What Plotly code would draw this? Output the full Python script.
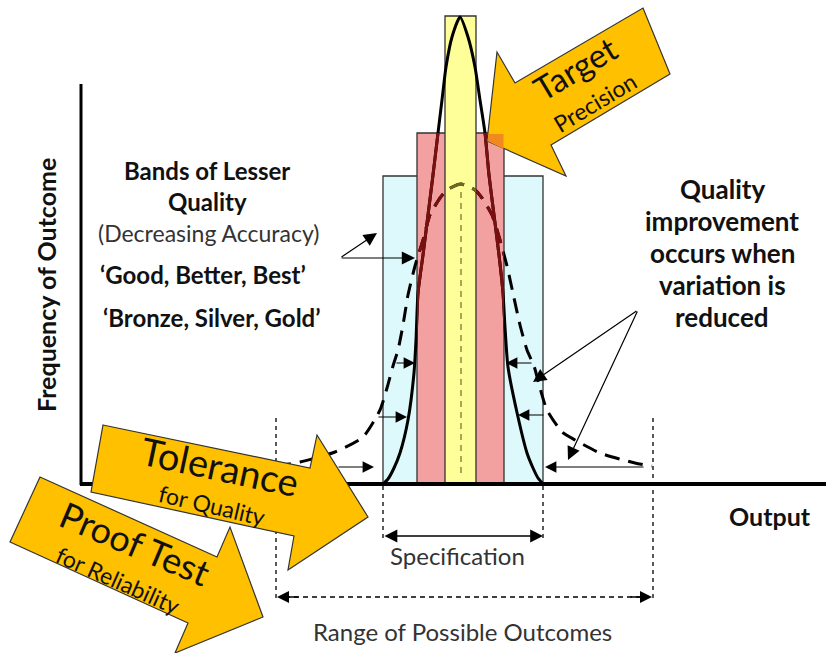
import plotly.graph_objects as go

W, H = 826, 653
FONT = "Lato"

# ---------------- data ----------------
# quality bands: outer (good/bronze), middle (better/silver), target (best/gold)
band_x0 = [383, 417, 445]
band_x1 = [543, 504, 476]
band_top = [176, 133, 16]
band_fill = ["#DDF9FB", "#F3A0A0", "#FFFF99"]
baseline_y = 484
center_x = 461

# reduced-variation distribution (solid)
solid_x = [383, 388, 394, 400, 408, 414, 416, 418, 423, 428, 433, 438, 442, 446, 452, 460,
           468, 475, 480, 485, 489, 494, 499, 503, 505, 508, 518, 527, 533, 538, 543]
solid_y = [484, 479, 468, 453, 420, 373, 340, 293, 255, 215, 175, 133, 100, 67, 37, 17,
           37, 67, 100, 133, 175, 215, 255, 293, 327, 367, 417, 453, 468, 478, 484]

# wide-variation distribution (dashed)
dashed_x = [276, 300, 335, 363, 380, 387, 393, 398, 403, 408, 415, 423, 430, 440, 447, 461,
            475, 482, 492, 500, 507, 514, 520, 527, 534, 540, 547, 562, 575, 600, 635, 652]
dashed_y = [466, 462, 452, 437, 410, 388, 366, 350, 325, 295, 266, 240, 215, 198, 190, 184,
            190, 198, 215, 240, 266, 298, 325, 350, 366, 388, 410, 432, 440, 453, 463, 466]

# ---------------- figure ----------------
fig = go.Figure()

def curve(xs, ys, color, dash, xa="x", ya="y"):
    fig.add_trace(go.Scatter(x=xs, y=ys, mode="lines", xaxis=xa, yaxis=ya,
                             line=dict(color=color, width=3, dash=dash, shape="spline", smoothing=0.6),
                             hoverinfo="skip", showlegend=False))

# main curves (black)
curve(dashed_x, dashed_y, "black", "15px,9px")
curve(solid_x, solid_y, "black", "solid")
# tinted copies, clipped to the pink and yellow bands
curve(dashed_x, dashed_y, "#7A1010", "15px,9px", "x2", "y2")
curve(solid_x, solid_y, "#7A1010", "solid", "x2", "y2")
curve(dashed_x, dashed_y, "#7A1010", "15px,9px", "x3", "y2")
curve(solid_x, solid_y, "#7A1010", "solid", "x3", "y2")
curve(dashed_x, dashed_y, "#6B6B1F", "15px,9px", "x4", "y2")

shapes = []
# bands
for x0, x1, top, fc in zip(band_x0, band_x1, band_top, band_fill):
    shapes.append(dict(type="rect", xref="x", yref="y", x0=x0, x1=x1, y0=top, y1=baseline_y,
                       fillcolor=fc, line=dict(color="#333333", width=1.3), layer="below"))
# centre line
shapes.append(dict(type="line", xref="x", yref="y", x0=center_x, x1=center_x, y0=192, y1=478,
                   line=dict(color="#8A8A40", width=1.5, dash="6px,5px"), layer="above"))
# axes
shapes.append(dict(type="line", xref="x", yref="y", x0=81, x1=81, y0=84, y1=baseline_y + 1,
                   line=dict(color="black", width=3), layer="above"))
shapes.append(dict(type="line", xref="x", yref="y", x0=80, x1=826, y0=baseline_y, y1=baseline_y,
                   line=dict(color="black", width=4), layer="above"))
# vertical dashed guides
for gx, gy0, gy1 in [(383, 486, 542), (543, 486, 542), (276, 418, 602), (653, 418, 602)]:
    shapes.append(dict(type="line", xref="x", yref="y", x0=gx, x1=gx, y0=gy0, y1=gy1,
                       line=dict(color="black", width=1.3, dash="4px,4px"), layer="above"))
# range dashed line
shapes.append(dict(type="line", xref="x", yref="y", x0=285, x1=644, y0=597, y1=597,
                   line=dict(color="black", width=1.4, dash="5px,4px"), layer="above"))

gold = "#FFC000"
edge = dict(color="#333333", width=1.2)
# Target arrow
shapes.append(dict(type="path", xref="x", yref="y", layer="above", fillcolor=gold, line=edge,
                   path="M 487,141 L 497,52 L 515,83 L 643,8 L 670,74 L 551,145 L 566,176 Z"))
shapes.append(dict(type="path", xref="x", yref="y", layer="above", fillcolor="#F08A1E",
                   line=dict(width=0), path="M 487.5,141 L 488.5,134 L 503.5,134 L 503.5,149 Z"))
# Tolerance arrow
shapes.append(dict(type="path", xref="x", yref="y", layer="above", fillcolor=gold, line=edge,
                   path="M 103,425 L 310,468 L 317,435 L 368,517 L 288,570 L 294,536 L 91,492 Z"))
# Proof test arrow
shapes.append(dict(type="path", xref="x", yref="y", layer="above", fillcolor=gold, line=edge,
                   path="M 40,477 L 217,557 L 230,527 L 263,617 L 175,653 L 188,623 L 10,542 Z"))

ann = []

def txt(x, y, s, size, bold=False, angle=0, color="#111111"):
    ann.append(dict(x=x, y=y, xref="x", yref="y", text=(f"<b>{s}</b>" if bold else s),
                    showarrow=False, textangle=angle, xanchor="center", yanchor="middle",
                    font=dict(family=FONT, size=size, color=color)))

def arrow(x0, y0, x1, y1, width=1.3, size=1.6, side="end"):
    ann.append(dict(x=x1, y=y1, ax=x0, ay=y0, xref="x", yref="y", axref="x", ayref="y",
                    text="", showarrow=True, arrowhead=2, arrowsize=size, arrowwidth=width,
                    arrowcolor="black", standoff=0, startstandoff=0, arrowside=side,
                    startarrowhead=2, startarrowsize=size))

# left labels
txt(46, 285, "Frequency of Outcome", 25, bold=True, angle=-90)
txt(207, 170, "Bands of Lesser", 24, bold=True)
txt(207, 201, "Quality", 24, bold=True)
txt(208, 233, "(Decreasing Accuracy)", 23, color="#333333")
txt(203, 274, "‘Good, Better, Best’", 24, bold=True)
txt(212, 317, "‘Bronze, Silver, Gold’", 24, bold=True)
# right labels
for i, line in enumerate(["Quality", "improvement", "occurs when", "variation is", "reduced"]):
    txt(722, 189 + 32 * i, line, 26, bold=True)
txt(770, 516, "Output", 25, bold=True)
txt(457, 555, "Specification", 24, color="#333333")
txt(462, 631, "Range of Possible Outcomes", 24, color="#333333")
# arrow labels
txt(575, 68, "Target", 33, angle=-31)
txt(595, 102, "Precision", 23, angle=-31)
txt(220, 466, "Tolerance", 38, angle=12)
txt(212, 505, "for Quality", 23, angle=13)
txt(135, 543, "Proof Test", 36, angle=23)
txt(118, 580, "for Reliability", 23, angle=24)

# dimension arrows
arrow(383, 536, 543, 536, width=1.6, size=1.6, side="end+start")
arrow(300, 597, 277, 597, width=1.5, size=1.6)
arrow(629, 597, 652, 597, width=1.5, size=1.6)
# pointers from labels
arrow(340, 258, 377, 233, width=1.2, size=2.2)
arrow(340, 258, 415, 258, width=1.2, size=2.2)
arrow(638, 310, 533, 382, width=1.2, size=2.2)
arrow(638, 310, 568, 460, width=1.2, size=2.2)
# variation-reduction arrows
arrow(395, 363, 415, 363, width=1.2, size=1.9)
arrow(377, 417, 407, 417, width=1.2, size=1.9)
arrow(337, 467, 374, 467, width=1.2, size=1.9)
arrow(533, 363, 506, 363, width=1.2, size=1.9)
arrow(545, 415, 518, 415, width=1.2, size=1.9)
arrow(645, 467, 545, 467, width=1.2, size=1.9)

def dom(a, b, total):
    return [a / total, b / total]

fig.update_layout(
    width=W, height=H, margin=dict(l=0, r=0, t=0, b=0),
    paper_bgcolor="white", plot_bgcolor="rgba(0,0,0,0)",
    shapes=shapes, annotations=ann, showlegend=False,
    xaxis=dict(range=[0, W], domain=[0, 1], visible=False, fixedrange=True),
    yaxis=dict(range=[H, 0], domain=[0, 1], visible=False, fixedrange=True),
    xaxis2=dict(range=[417, 445], domain=dom(417, 445, W), visible=False, anchor="y2"),
    xaxis3=dict(range=[476, 504], domain=dom(476, 504, W), visible=False, anchor="y2"),
    xaxis4=dict(range=[445, 476], domain=dom(445, 476, W), visible=False, anchor="y2"),
    yaxis2=dict(range=[baseline_y, 133], domain=dom(H - baseline_y, H - 133, H), visible=False,
                anchor="x2"),
)

fig.write_html("out.html", config={"displayModeBar": False},
               post_script="document.body.style.margin='0px';document.body.style.overflow='hidden';")
